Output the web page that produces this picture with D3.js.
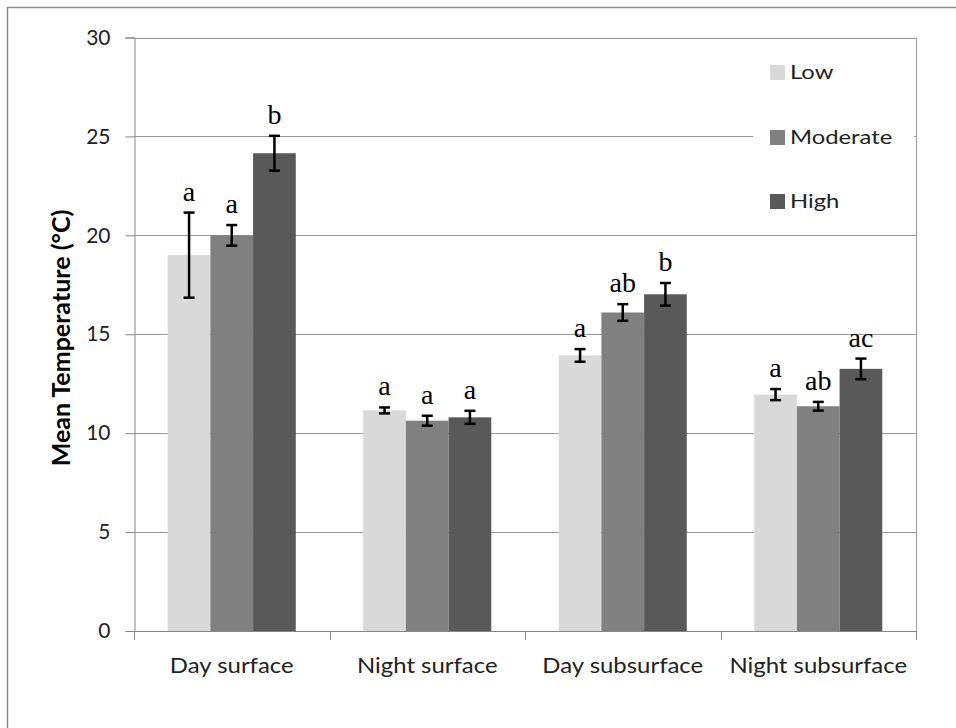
<!DOCTYPE html>
<html>
<head>
<meta charset="utf-8">
<script src="https://cdn.jsdelivr.net/npm/d3@7"></script>
<style>
  html, body { margin: 0; padding: 0; background: #fff; }
  svg { display: block; }
</style>
</head>
<body>
<svg id="chart" width="956" height="728"></svg>
<script>
// Mean temperature by site condition and disturbance level
const categories = ["Day surface", "Night surface", "Day subsurface", "Night subsurface"];
const seriesNames = ["Low", "Moderate", "High"];
const lowValues      = [19.0, 11.15, 13.93, 11.95];
const moderateValues = [20.0, 10.63, 16.1, 11.36];
const highValues     = [24.15, 10.8, 17.02, 13.25];
const lowErrors      = [2.15, 0.15, 0.32, 0.28];
const moderateErrors = [0.52, 0.25, 0.42, 0.22];
const highErrors     = [0.88, 0.33, 0.57, 0.52];
const lowLetters      = ["a", "a", "a", "a"];
const moderateLetters = ["a", "a", "ab", "ab"];
const highLetters     = ["b", "a", "b", "ac"];
const yTicks = [0, 5, 10, 15, 20, 25, 30];
const colors = ["#d9d9d9", "#808080", "#595959"];

const seriesValues = [lowValues, moderateValues, highValues];
const seriesErrors = [lowErrors, moderateErrors, highErrors];
const seriesLetters = [lowLetters, moderateLetters, highLetters];

const rows = [];
categories.forEach((c, ci) => {
  seriesNames.forEach((s, si) => {
    rows.push({
      category: c, series: s,
      value: seriesValues[si][ci],
      err: seriesErrors[si][ci],
      letter: seriesLetters[si][ci],
      color: colors[si]
    });
  });
});

const svg = d3.select("#chart");
const sansFont = "Lato, 'Open Sans', sans-serif";
const serifFont = "'Liberation Serif', 'Times New Roman', serif";

const plotLeft = 134, plotRight = 916, plotTop = 37.5, plotBottom = 631;

const y = d3.scaleLinear().domain([0, 30]).range([plotBottom, plotTop]);
const pad = 0.345;
const x0 = d3.scaleBand().domain(categories).range([plotLeft, plotRight])
  .paddingInner(pad).paddingOuter(pad / 2);
const x1 = d3.scaleBand().domain(seriesNames).range([0, x0.bandwidth()]);

// Outer chart frame
svg.append("rect")
  .attr("x", 7.5).attr("y", 7.5).attr("width", 1000).attr("height", 1000)
  .attr("fill", "none").attr("stroke", "#8c8c8c").attr("stroke-width", 1.5);

// Horizontal gridlines
svg.append("g").selectAll("line").data(yTicks.filter(t => t > 0)).join("line")
  .attr("x1", plotLeft).attr("x2", plotRight)
  .attr("y1", d => Math.round(y(d)) + 0.5).attr("y2", d => Math.round(y(d)) + 0.5)
  .attr("stroke", "#9a9a9a").attr("stroke-width", 1);

// Right plot border
svg.append("line")
  .attr("x1", plotRight + 0.5).attr("x2", plotRight + 0.5)
  .attr("y1", plotTop).attr("y2", plotBottom + 9)
  .attr("stroke", "#9a9a9a").attr("stroke-width", 1);

// Y axis
const yAxis = d3.axisLeft(y).tickValues(yTicks).tickSize(9).tickPadding(15);
const gy = svg.append("g").attr("transform", `translate(${plotLeft + 0.5},0)`).call(yAxis);
gy.select(".domain").attr("stroke", "#868686");
gy.selectAll(".tick line").attr("stroke", "#868686");
gy.selectAll(".tick text")
  .attr("font-family", sansFont).attr("font-size", 21).attr("fill", "#222");

// X axis: ticks at category boundaries
const step = x0.step();
const boundaries = d3.range(categories.length + 1).map(i => plotLeft + i * step);
svg.append("line")
  .attr("x1", plotLeft).attr("x2", plotRight)
  .attr("y1", Math.round(plotBottom) + 0.5).attr("y2", Math.round(plotBottom) + 0.5)
  .attr("stroke", "#868686");
svg.append("g").selectAll("line").data(boundaries).join("line")
  .attr("x1", d => Math.round(d) + 0.5).attr("x2", d => Math.round(d) + 0.5)
  .attr("y1", plotBottom).attr("y2", plotBottom + 9)
  .attr("stroke", "#868686");
svg.append("g").selectAll("text").data(categories).join("text")
  .attr("transform", d => `translate(${x0(d) + x0.bandwidth() / 2},673) scale(1.14,1)`)
  .attr("text-anchor", "middle")
  .attr("font-family", sansFont).attr("font-size", 21).attr("fill", "#222")
  .text(d => d);

// Bars
const bars = svg.append("g");
bars.selectAll("rect").data(rows).join("rect")
  .attr("x", d => x0(d.category) + x1(d.series))
  .attr("y", d => y(d.value))
  .attr("width", x1.bandwidth())
  .attr("height", d => y(0) - y(d.value))
  .attr("fill", d => d.color);

// Error bars
const eb = svg.append("g").attr("stroke", "#000").attr("stroke-width", 2.5);
rows.forEach(d => {
  const cx = x0(d.category) + x1(d.series) + x1.bandwidth() / 2;
  const y1 = y(d.value + d.err), y2 = y(d.value - d.err);
  eb.append("line").attr("x1", cx).attr("x2", cx).attr("y1", y1).attr("y2", y2);
  eb.append("line").attr("x1", cx - 5.5).attr("x2", cx + 5.5).attr("y1", y1).attr("y2", y1);
  eb.append("line").attr("x1", cx - 5.5).attr("x2", cx + 5.5).attr("y1", y2).attr("y2", y2);
});

// Significance letters
svg.append("g").selectAll("text").data(rows).join("text")
  .attr("x", d => x0(d.category) + x1(d.series) + x1.bandwidth() / 2)
  .attr("y", d => y(d.value + d.err) - 12)
  .attr("text-anchor", "middle")
  .attr("font-family", serifFont).attr("font-size", 28).attr("fill", "#000")
  .text(d => d.letter);

// Y axis title
svg.append("text")
  .attr("transform", `translate(70,338) rotate(-90)`)
  .attr("text-anchor", "middle")
  .attr("font-family", sansFont).attr("font-size", 25).attr("font-weight", "bold")
  .attr("fill", "#000")
  .text("Mean Temperature (°C)");

// Legend
const legend = svg.append("g");
legend.append("rect")
  .attr("x", 753).attr("y", 45).attr("width", 161).attr("height", 180)
  .attr("fill", "#fff");
const legendY = [72, 137, 201];
seriesNames.forEach((s, i) => {
  legend.append("rect")
    .attr("x", 770).attr("y", legendY[i] - 7).attr("width", 15).attr("height", 15)
    .attr("fill", colors[i]);
  legend.append("text")
    .attr("transform", `translate(790,${legendY[i]}) scale(1.19,1)`)
    .attr("dy", "0.36em")
    .attr("font-family", sansFont).attr("font-size", 20).attr("fill", "#222")
    .text(s);
});
</script>
</body>
</html>
